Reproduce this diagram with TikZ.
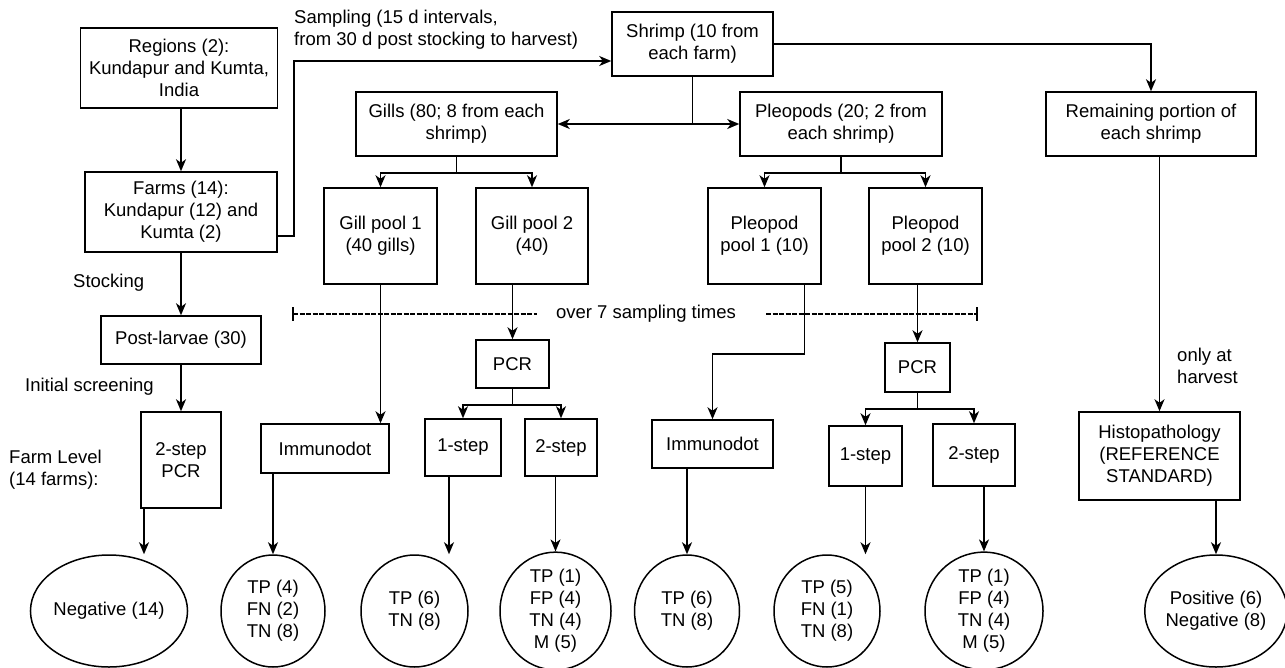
\documentclass[tikz,border=0pt]{standalone}
\usepackage{fontspec}
\setmainfont{Liberation Sans}
\usetikzlibrary{arrows.meta,shapes.geometric}
\begin{document}
\begin{tikzpicture}[x=1pt,y=-1pt,
  font=\fontsize{18.5}{22}\selectfont,
  box/.style={draw,line width=1.5pt,inner sep=0pt,align=center},
  oval/.style={draw,ellipse,line width=1.5pt,inner sep=0pt,align=center,minimum height=112},
  arr/.style={line width=1.5pt,-{Stealth[length=12pt,width=10pt,inset=3.5pt]}},
  ln/.style={line width=1.5pt},
  dl/.style={line width=1.3pt,dash pattern=on 5pt off 1.5pt},
  lbl/.style={anchor=west,align=left,inner sep=0pt}]
\useasboundingbox[fill=white] (0,0) rectangle (1285,667);

% boxes
\node[box,minimum width=197,minimum height=80] (regions) at (179,68) {Regions (2):\\Kundapur and Kumta,\\India};
\node[box,minimum width=192,minimum height=80] (farms) at (181,212) {Farms (14):\\Kundapur (12) and\\Kumta (2)};
\node[box,minimum width=160,minimum height=48] (post) at (181,340) {Post-larvae (30)};
\node[box,minimum width=80,minimum height=96] (pcrfarm) at (181,460) {2-step\\PCR};
\node[box,minimum width=161,minimum height=64] (shrimp) at (692.5,44) {Shrimp (10 from\\each farm)};
\node[box,minimum width=201,minimum height=64] (gills) at (456.5,124) {Gills (80; 8 from each\\shrimp)};
\node[box,minimum width=202,minimum height=64] (pleopods) at (841,124) {Pleopods (20; 2 from\\each shrimp)};
\node[box,minimum width=210,minimum height=64] (remaining) at (1151,124) {Remaining portion of\\each shrimp};
\node[box,minimum width=113,minimum height=96] (gp1) at (380.5,236) {Gill pool 1\\(40 gills)};
\node[box,minimum width=112,minimum height=96] (gp2) at (532,236) {Gill pool 2\\(40)};
\node[box,minimum width=113,minimum height=96] (pp1) at (764.5,236) {Pleopod\\pool 1 (10)};
\node[box,minimum width=113,minimum height=96] (pp2) at (925.5,236) {Pleopod\\pool 2 (10)};
\node[box,minimum width=128,minimum height=49] (immg) at (325,448.5) {Immunodot};
\node[box,minimum width=73,minimum height=48] (pcrg) at (512.5,364) {PCR};
\node[box,minimum width=76,minimum height=57] (s1g) at (463,447.5) {1-step};
\node[box,minimum width=72,minimum height=57] (s2g) at (561,447.5) {2-step};
\node[box,minimum width=121,minimum height=48] (immp) at (712.5,444) {Immunodot};
\node[box,minimum width=65,minimum height=49] (pcrp) at (917.5,367.5) {PCR};
\node[box,minimum width=73,minimum height=60] (s1p) at (865.5,456) {1-step};
\node[box,minimum width=82,minimum height=62] (s2p) at (974,455) {2-step};
\node[box,minimum width=161,minimum height=88] (histo) at (1159.5,456) {Histopathology\\(REFERENCE\\STANDARD)};

% ellipses
\node[oval,minimum width=144] (neg) at (109,611) {Negative (14)};
\node[oval,minimum width=104] (e1) at (273,611) {TP (4)\\FN (2)\\TN (8)};
\node[oval,minimum width=107] (e2) at (414.5,611) {TP (6)\\TN (8)};
\node[oval,minimum width=111] (e3) at (555.5,611) {TP (1)\\FP (4)\\TN (4)\\M (5)};
\node[oval,minimum width=105] (e4) at (687,611) {TP (6)\\TN (8)};
\node[oval,minimum width=106] (e5) at (827,611) {TP (5)\\FN (1)\\TN (8)};
\node[oval,minimum width=118] (e6) at (984,611) {TP (1)\\FP (4)\\TN (4)\\M (5)};
\node[oval,minimum width=132] (e7) at (1216,611) {Positive (6)\\Negative (8)};

% labels
\node[lbl] (samp) at (294,29.5) {Sampling (15 d intervals,\\from 30 d post stocking to harvest)};
\node[lbl] (stock) at (73,283) {Stocking};
\node[lbl] (init) at (25,387) {Initial screening};
\node[lbl] (farmlvl) at (9,470) {Farm Level\\(14 farms):};
\node[lbl] (harv) at (1177,366) {only at\\harvest};
\node[inner sep=0pt] (over) at (646,314) {over 7 sampling times};
\coordinate (dL) at (293,314);
\coordinate (dR) at (977,314);

% dashed span
\draw[dl] (dL) -- (over.west -| 537,0);
\draw[dl] (over.east -| 766,0) -- (dR);
\draw[ln] (dL) ++(0,-7) -- ++(0,14);
\draw[ln] (dR) ++(0,-7) -- ++(0,14);

% connectors
\draw[arr] (farms.north |- regions.south) -- (farms.north);
\draw[arr] (farms.south) -- (post.north);
\draw[arr] (post.south) -- (pcrfarm.north);
\draw[arr] ([xshift=-37pt]pcrfarm.south) -- ([xshift=-37pt]pcrfarm.south |- neg.north);
\draw[arr] ([yshift=-24pt]farms.east) -- ++(16,0) |- ([yshift=-17pt]shrimp.west);
\draw[arr] (shrimp.south) |- (gills.east);
\draw[arr] (shrimp.south) |- (pleopods.west);
\draw[arr] (shrimp.east) -| (remaining.north);
\draw[arr] (gills.south) -- ++(0,16) -| (gp1.north);
\draw[arr] (gills.south) -- ++(0,16) -| (gp2.north);
\draw[arr] (pleopods.south) -- ++(0,16) -| (pp1.north);
\draw[arr] (pleopods.south) -- ++(0,16) -| (pp2.north);
\draw[arr] (gp1.south) -- (gp1.south |- immg.north);
\draw[arr] (gp2.south -| pcrg.north) -- (pcrg.north);
\draw[arr] (pcrg.south) -- ++(0,16) -| (s1g.north);
\draw[arr] (pcrg.south) -- ++(0,16) -| (s2g.north);
\draw[arr] (immg.south -| e1.north) -- (e1.north);
\draw[arr] ([xshift=-14pt]s1g.south) -- ([xshift=-14pt]s1g.south |- e2.north);
\draw[arr] (s2g.south -| e3.north) -- (e3.north);
\draw[arr] ([xshift=40pt]pp1.south) -- ++(0,69) -| (immp.north);
\draw[arr] (pp2.south -| pcrp.north) -- (pcrp.north);
\draw[arr] (pcrp.south) -- ++(0,16) -| (s1p.north);
\draw[arr] (pcrp.south) -- ++(0,16) -| (s2p.north);
\draw[arr] (immp.south -| e4.north) -- (e4.north);
\draw[arr] (s1p.south) -- (s1p.south |- e5.north);
\draw[arr] (s2p.south -| e6.north) -- (e6.north);
\draw[arr] (remaining.south -| histo.north) -- (histo.north);
\draw[arr] (histo.south -| e7.north) -- (e7.north);
\end{tikzpicture}
\end{document}
